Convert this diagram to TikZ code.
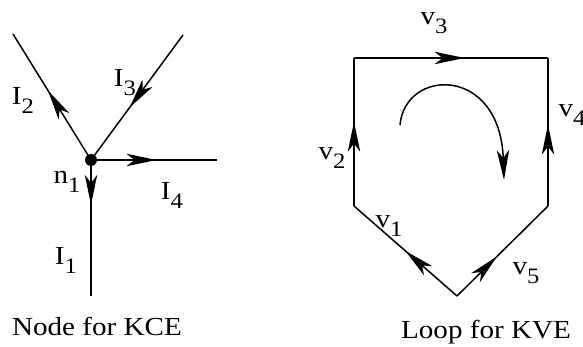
\documentclass[tikz,border=0pt]{standalone}
\usepackage{fontspec}
\setmainfont{Liberation Serif}
\usepackage{tikz}
\usetikzlibrary{arrows.meta,calc,decorations.markings}

\newcommand{\lowsub}[1]{\raisebox{-4.5pt}{\fontsize{11}{13}\selectfont #1}}

\tikzset{
	wire/.style={line width=0.75pt},
	midarrow/.style={postaction={decorate}, decoration={markings,
		mark=at position #1 with {\arrow{Stealth[length=15pt, width=6.2pt, inset=4pt]}}}},
	lbl/.style={inner sep=0pt, xscale=1.12, font=\fontsize{13}{15}\selectfont},
	caption/.style={inner sep=0pt, xscale=1.12, font=\fontsize{13}{15}\selectfont}
}

\begin{document}
\begin{tikzpicture}[x=0.5pt, y=-0.5pt]

			\useasboundingbox (0,0) rectangle (583,347);

			% junction and the ends of its branches
			\coordinate (n1) at (91,160);
			\coordinate (e1) at (91,296);
			\coordinate (e2) at (13,34);
			\coordinate (e3) at (183,35);
			\coordinate (e4) at (217,160);

			% branch currents
			\draw[wire, midarrow=0.33] (n1) -- (e1);
			\draw[wire, midarrow=0.55] (n1) -- (e2);
			\draw[wire, midarrow=0.58] (e3) -- (n1);
			\draw[wire, midarrow=0.52] (n1) -- (e4);
			\fill (n1) circle (6);

			\node[lbl] (i1) at (66,260) {I\lowsub{1}};
			\node[lbl] (i2) at (23,100) {I\lowsub{2}};
			\node[lbl] (i3) at (125,83) {I\lowsub{3}};
			\node[lbl] (i4) at (172,195) {I\lowsub{4}};
			\node[lbl] (nn) at (67,182) {n\lowsub{1}};

			\node[caption] (kce) at (97,326) {Node for KCE};

			% corners of the loop
			\coordinate (bl) at (354,206);
			\coordinate (tl) at (354,58);
			\coordinate (tr) at (548,58);
			\coordinate (br) at (548,206);
			\coordinate (bt) at (457,296);

			% loop elements
			\draw[wire, midarrow=0.50] (bt) -- (bl);
			\draw[wire, midarrow=0.57] (bl) -- (tl);
			\draw[wire, midarrow=0.57] (tl) -- (tr);
			\draw[wire, midarrow=0.55] (br) -- (tr);
			\draw[wire, midarrow=0.44] (bt) -- (br);

			\node[lbl] (v1) at (389,226) {v\lowsub{1}};
			\node[lbl] (v2) at (332,158) {v\lowsub{2}};
			\node[lbl] (v3) at (434,23) {v\lowsub{3}};
			\node[lbl] (v4) at (572,115) {v\lowsub{4}};
			\node[lbl] (v5) at (526,273) {v\lowsub{5}};

			% direction of traversal
			\coordinate (cwA) at (400,125);
			\coordinate (cwB) at (504,180);
			\draw[wire, -{Stealth[length=15pt, width=6.2pt, inset=4pt]}]
				(cwA) .. controls (405,68) and (500,65) .. (cwB);

			\node[caption] (kve) at (486,332) {Loop for KVE};

		\end{tikzpicture}
\end{document}
